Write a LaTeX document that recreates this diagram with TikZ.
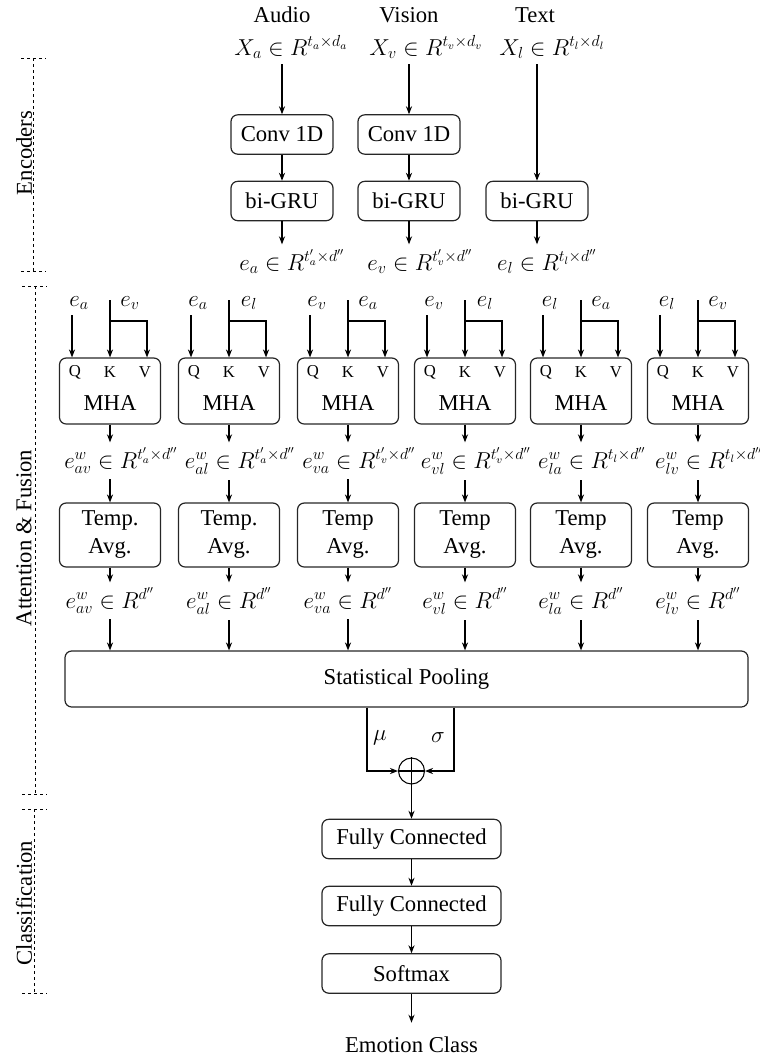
\documentclass[tikz,border=0pt]{standalone}
\usepackage{amsmath}
\usepackage{fontspec}
\setmainfont{Liberation Serif}
\usetikzlibrary{positioning, arrows.meta, calc}
\newcommand{\bigfont}{\fontsize{17}{21}\selectfont}
\tikzset{
  blk/.style={draw=black!85, rounded corners=5pt, line width=0.9pt,
              align=center, inner sep=2pt, font=\bigfont},
  encbox/.style={blk, minimum width=76.5pt, minimum height=29.5pt},
  mhabox/.style={blk, minimum width=75.75pt, minimum height=49.5pt},
  tmpbox/.style={blk, minimum width=75.75pt, minimum height=48pt},
  clsbox/.style={blk, minimum width=134.25pt, minimum height=29.5pt},
  txt/.style={inner sep=2pt, font=\bigfont},
  lab/.style={txt, anchor=base, inner ysep=4pt},
  qkv/.style={inner sep=0pt, font=\fontsize{12.5}{14}\selectfont},
  side/.style={rotate=90, inner sep=0pt, font=\bigfont},
  arr/.style={-{Stealth[length=6pt, width=4.6pt]}, line width=0.8pt},
  wire/.style={line width=0.8pt},
  sidebar/.style={dash pattern=on 2.5pt off 2pt, line width=0.6pt},
}

\begin{document}
\begin{tikzpicture}[x=0.75pt, y=-0.75pt]
  \useasboundingbox (0,0) rectangle (760,1061);
  % stage brackets
  \draw[sidebar] (21,58) -- (46,58) (33,58) -- (33,271) (21,271) -- (46,271);
  \draw[sidebar] (22,286) -- (47,286) (35,286) -- (35,794) (22,794) -- (47,794);
  \draw[sidebar] (22,809) -- (47,809) (34,809) -- (34,993) (22,993) -- (47,993);
  \node[side] (encl) at (24,153) {Encoders};
  \node[side] (attl) at (24,538) {Attention \& Fusion};
  \node[side] (clsl) at (24,903) {Classification};

  % encoders
  \node[txt, anchor=base] (audio) at (282,22) {Audio};
  \node[txt, anchor=base] (vision) at (409,22) {Vision};
  \node[txt, anchor=base] (text) at (535,22) {Text};
  \node[lab] (xa) at (291,55) {$X_a \in R^{t_a\times d_a}$};
  \node[lab] (xv) at (426,55) {$X_v \in R^{t_v\times d_v}$};
  \node[lab] (xl) at (552,55) {$X_l \in R^{t_l\times d_l}$};
  \node[encbox] (conva) at (282,134.5) {Conv 1D};
  \node[encbox] (convv) at (409,134.5) {Conv 1D};
  \node[encbox] (grua) at (282,201) {bi-GRU};
  \node[encbox] (gruv) at (409,201) {bi-GRU};
  \node[encbox] (grul) at (537,201) {bi-GRU};
  \node[lab] (ea) at (292,270) {$e_a \in R^{t'_a\times d''}$};
  \node[lab] (ev) at (420,270) {$e_v \in R^{t'_v\times d''}$};
  \node[lab] (el) at (547,270) {$e_l \in R^{t_l\times d''}$};
  \draw[arr] (xa.south -| conva.north) -- (conva.north);
  \draw[arr] (xv.south -| convv.north) -- (convv.north);
  \draw[arr] (xl.south -| grul.north) -- (grul.north);
  \draw[arr] (conva) -- (grua);
  \draw[arr] (convv) -- (gruv);
  \draw[arr] (grua.south) -- (grua.south |- ea.north);
  \draw[arr] (gruv.south) -- (gruv.south |- ev.north);
  \draw[arr] (grul.south) -- (grul.south |- el.north);

  % attention & fusion
  \node[blk, minimum width=512.25pt, minimum height=42pt] (pool) at (406.5,679) {Statistical Pooling};
  \foreach \px/\id/\qm/\km/\pr/\tx/\tw in {110/1/a/v/av/{t'_a}/Temp., 229/2/a/l/al/{t'_a}/Temp.,
      348/3/v/a/va/{t'_v}/Temp, 465/4/v/l/vl/{t'_v}/Temp, 581/5/l/a/la/{t_l}/Temp, 698/6/l/v/lv/{t_l}/Temp} {
    \node[mhabox] (mha\id) at (\px,391) {};
    \node[txt] (tm\id) at (\px,403) {MHA};
    \coordinate (q\id) at ($(mha\id.north)+(-38,0)$);
    \coordinate (k\id) at (mha\id.north);
    \coordinate (v\id) at ($(mha\id.north)+(37,0)$);
    \coordinate (kt\id) at (\px,300);
    \coordinate (kb\id) at (\px,321);
    \node[qkv] (tq\id) at ($(q\id)+(3,15)$) {Q};
    \node[qkv] (tk\id) at ($(k\id)+(0,15)$) {K};
    \node[qkv] (tv\id) at ($(v\id)+(-2,15)$) {V};
    \node[lab] (iq\id) at ({\px-31},306) {$e_{\qm}$};
    \node[lab] (ik\id) at ({\px+20},306) {$e_{\km}$};
    \draw[arr] (iq\id.south -| q\id) -- (q\id);
    \draw[arr] (kt\id) -- (k\id);
    \draw[arr] (kb\id) -| (v\id);
    \node[lab] (ow\id) at ({\px+11},468) {$e^w_{\pr}\in R^{\tx\times d''}$};
    \node[tmpbox] (tmp\id) at (\px,535) {\tw\\Avg.};
    \node[lab] (ew\id) at (\px,608) {$e^w_{\pr}\in R^{d''}$};
    \draw[arr] (mha\id.south) -- (mha\id.south |- ow\id.north);
    \draw[arr] (mha\id.south |- ow\id.south) -- (tmp\id.north);
    \draw[arr] (tmp\id.south) -- (tmp\id.south |- ew\id.north);
    \draw[arr] (tmp\id.south |- ew\id.south) -- (tmp\id.south |- pool.north);
  }
  \coordinate (pmu) at ($(pool.south)+(-39.5,0)$);
  \coordinate (psig) at ($(pool.south)+(47.5,0)$);
  \node[circle, draw, line width=0.8pt, minimum size=19.5pt, inner sep=0pt] (sum) at (411.5,771) {};
  \draw[wire] (sum.north) -- (sum.south) (sum.west) -- (sum.east);
  \node[txt] (mu) at (380,738) {$\mu$};
  \node[txt] (sig) at (438,738) {$\sigma$};
  \draw[arr] (pmu) |- (sum.west);
  \draw[arr] (psig) |- (sum.east);

  % classification
  \node[clsbox] (fc1) at (411.5,839) {Fully Connected};
  \node[clsbox] (fc2) at (411.5,906) {Fully Connected};
  \node[clsbox] (soft) at (411.5,973.5) {Softmax};
  \node[lab, inner ysep=10pt] (emo) at (411.5,1052) {Emotion Class};
  \draw[arr] (sum) -- (fc1);
  \draw[arr] (fc1) -- (fc2);
  \draw[arr] (fc2) -- (soft);
  \draw[arr] (soft) -- (emo);
\end{tikzpicture}
\end{document}
